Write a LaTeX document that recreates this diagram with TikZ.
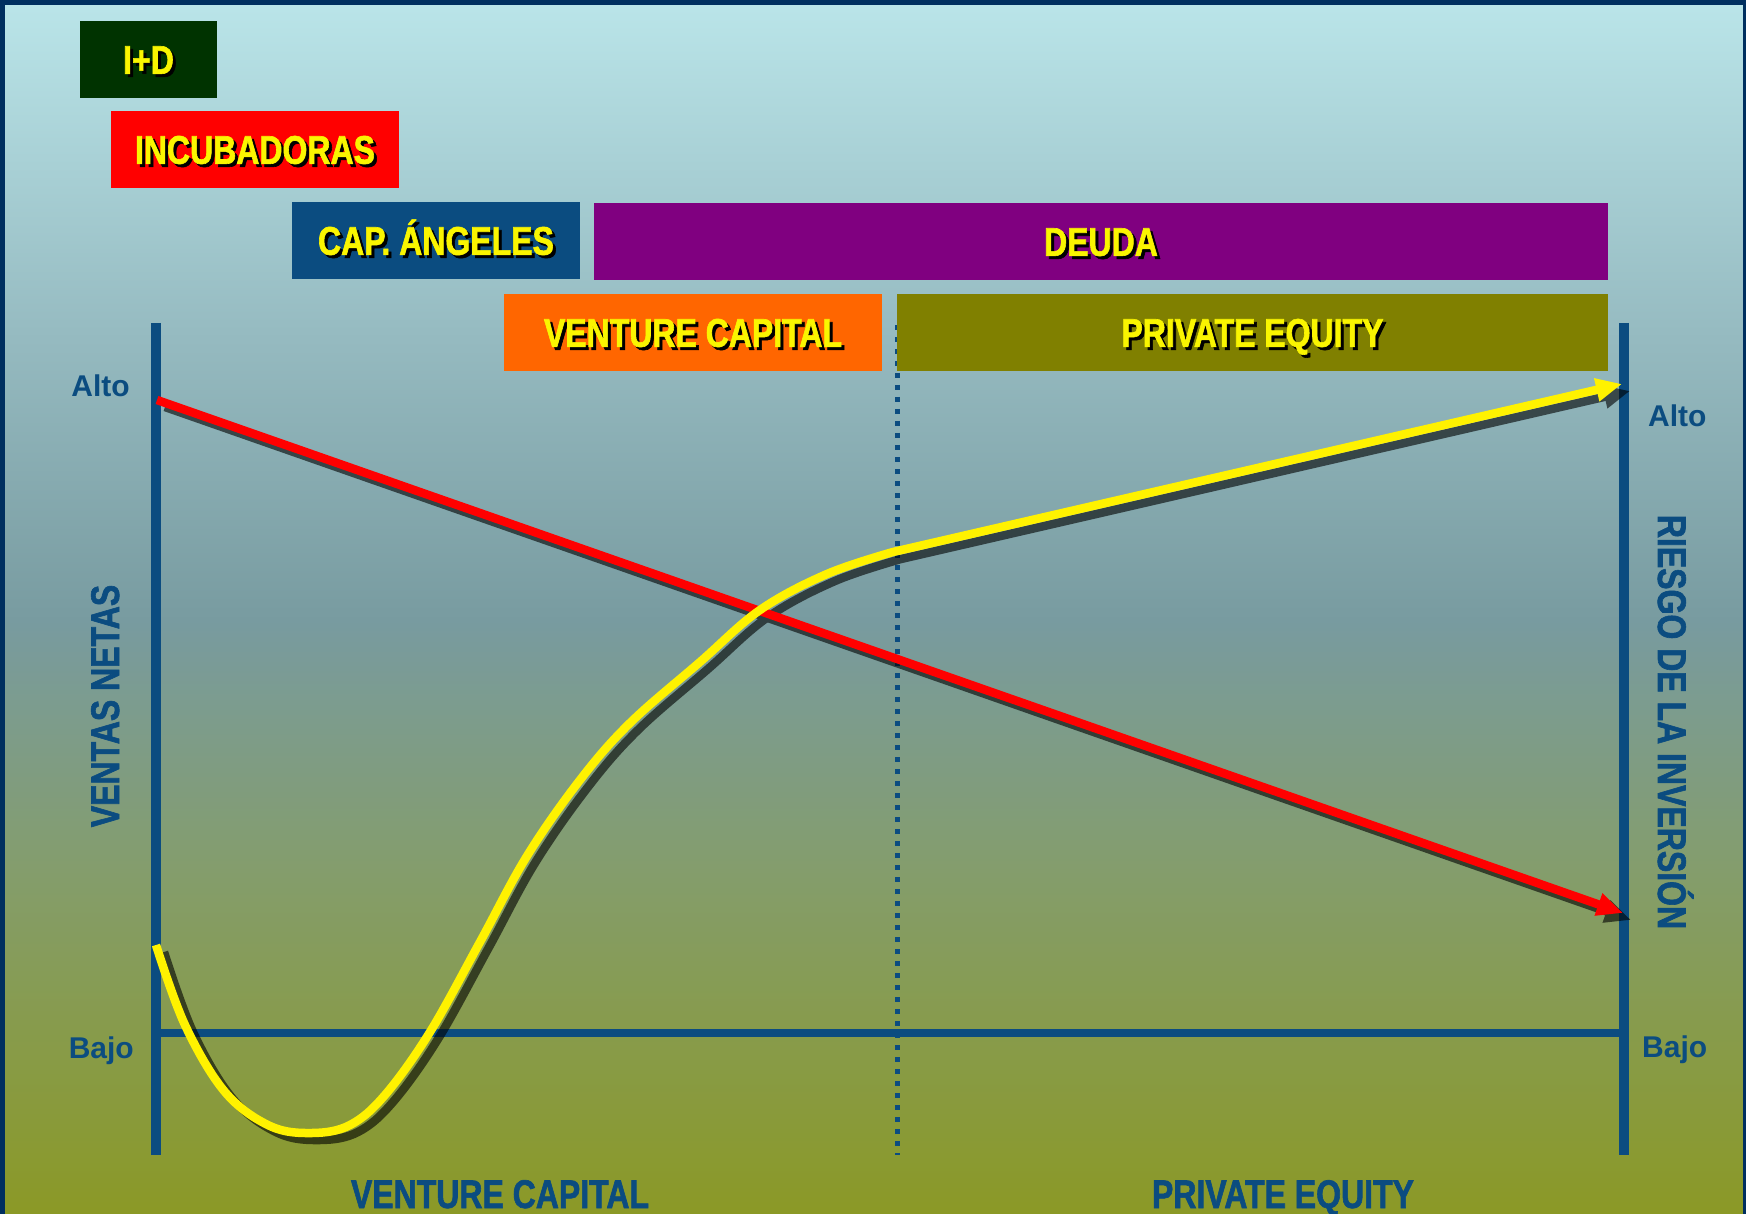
\documentclass[tikz,border=0pt]{standalone}
\usepackage{fontspec}
\setmainfont{Liberation Sans}
\newfontfamily\condf[FakeStretch=0.80,FakeBold=1.5]{Liberation Sans}
\usetikzlibrary{arrows.meta}
\definecolor{navy}{RGB}{0,47,95}
\definecolor{axblue}{RGB}{11,76,128}
\definecolor{idgreen}{RGB}{0,51,0}
\definecolor{incred}{RGB}{255,0,0}
\definecolor{capblue}{RGB}{11,76,128}
\definecolor{deudap}{RGB}{128,0,128}
\definecolor{vcorange}{RGB}{255,102,0}
\definecolor{peolive}{RGB}{128,128,0}
\definecolor{txtyel}{RGB}{250,245,0}
\definecolor{bgA}{RGB}{186,229,233}
\definecolor{bgB}{RGB}{150,187,193}
\definecolor{bgC}{RGB}{120,155,160}
\definecolor{bgD}{RGB}{132,157,108}
\definecolor{bgE}{RGB}{139,153,38}
\newcommand\shtxt[1]{\makebox[0pt][l]{\hspace{3pt}\raisebox{-3pt}{\color{black}#1}}#1}
\newcommand\ypts{(185,1025) (225,1092) (270,1126) (312,1133) (350,1125) (385,1095) (430,1032) (480,942) (527,856) (580,780) (630,723) (700,662) (760,610) (827,574) (893,552)}
\tikzset{
  box/.style={inner sep=0pt, text=txtyel, font=\condf\bfseries\fontsize{40}{40}\selectfont,
    text height=28.6pt, text depth=0pt},
  axisline/.style={draw=axblue, line width=10pt},
  lbl/.style={text=axblue, font=\bfseries\fontsize{30}{30}\selectfont, inner sep=0pt},
  ttl/.style={text=axblue, font=\condf\bfseries\fontsize{40}{40}\selectfont, inner sep=0pt},
  tipA/.style={-{Triangle[length=26pt,width=22pt]}},
  curveline/.style={line width=8.5pt, tipA},
}
\begin{document}
\begin{tikzpicture}[x=1pt,y=-1pt]
\useasboundingbox (0,0) rectangle (1746,1214);
% background
\shade[top color=bgA, bottom color=bgB] (0,0) rectangle (1746,331);
\shade[top color=bgB, bottom color=bgC] (0,330) rectangle (1746,621);
\shade[top color=bgC, bottom color=bgD] (0,620) rectangle (1746,871);
\shade[top color=bgD, bottom color=bgE] (0,870) rectangle (1746,1214);
\fill[navy] (0,0) rectangle (1746,5);
\fill[navy] (0,0) rectangle (4.5,1214);
\fill[navy] (1743,0) rectangle (1746,1214);

% coordinates
\coordinate (la1) at (156,323);
\coordinate (la2) at (156,1155);
\coordinate (ra1) at (1624,323);
\coordinate (ra2) at (1624,1155);
\coordinate (h1) at (156,1033);
\coordinate (h2) at (1624,1033);
\coordinate (d1) at (897,325);
\coordinate (d2) at (897,1155);
\coordinate (r1) at (157,400);
\coordinate (r2) at (1623,913);
\coordinate (y0) at (156,945);
\coordinate (y1) at (1622,384);
% shadow ends
\coordinate (r1s) at (165,407);
\coordinate (r2s) at (1631,920);
\coordinate (y0s) at (164,952);
\coordinate (y1s) at (1630,391);

% dotted divider
\draw[axblue, line width=5pt, dash pattern=on 5pt off 7pt] (d1) -- (d2);

% axes
\draw[axisline] (la1) -- (la2);
\draw[axisline] (ra1) -- (ra2);
\draw[draw=axblue, line width=8pt] (h1) -- (h2);

% shadows
\begin{scope}[transparency group, opacity=0.6]
\draw[black, curveline] (r1s) -- (r2s);
\begin{scope}[shift={(8,7)}]
\draw[black, curveline] plot[smooth, tension=0.6] coordinates {(y0s) \ypts} -- (y1s);
\end{scope}
\end{scope}

% curves
\draw[red, curveline] (r1) -- (r2);
\draw[yellow, curveline] plot[smooth, tension=0.6] coordinates {(y0) \ypts} -- (y1);

% boxes
\node[box, fill=idgreen, minimum width=137pt, minimum height=77pt] (id) at (148.5,59.5) {\shtxt{I+D}};
\node[box, fill=incred, minimum width=288pt, minimum height=77pt] (inc) at (255,149.5) {\shtxt{INCUBADORAS}};
\node[box, fill=capblue, minimum width=288pt, minimum height=77pt] (cap) at (436,240.5) {\shtxt{CAP. ÁNGELES}};
\node[box, fill=deudap, minimum width=1014pt, minimum height=77pt] (deuda) at (1101,241.5) {\shtxt{DEUDA}};
\node[box, fill=vcorange, minimum width=378pt, minimum height=77pt] (vc) at (693,332.5) {\shtxt{VENTURE CAPITAL}};
\node[box, fill=peolive, minimum width=711pt, minimum height=77pt] (pe) at (1252.5,332.5) {\shtxt{PRIVATE EQUITY}};

% labels
\node[lbl, anchor=base east] (altoL) at (130,397) {Alto};
\node[lbl, anchor=base east] (bajoL) at (134,1058) {Bajo};
\node[lbl, anchor=base west] (altoR) at (1648,427) {Alto};
\node[lbl, anchor=base west] (bajoR) at (1642,1057) {Bajo};
\node[ttl, rotate=90, anchor=base] (ventas) at (119,706) {VENTAS NETAS};
\node[ttl, rotate=-90, anchor=base] (riesgo) at (1658,722) {RIESGO DE LA INVERSIÓN};
\node[ttl, anchor=base] (vcB) at (500,1208) {VENTURE CAPITAL};
\node[ttl, anchor=base] (peB) at (1283,1208) {PRIVATE EQUITY};
\end{tikzpicture}
\end{document}
